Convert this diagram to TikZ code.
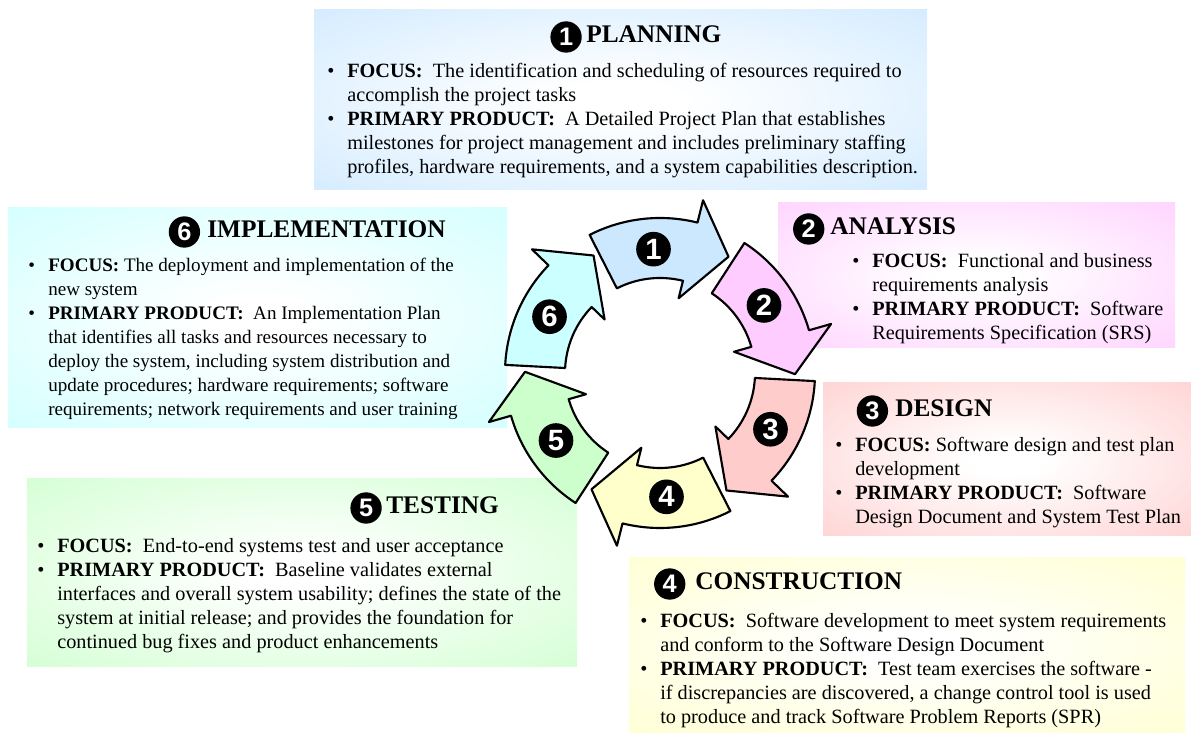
\documentclass[tikz,border=0pt]{standalone}
\usepackage{fontspec}
\setmainfont{Liberation Serif}
\setsansfont{Liberation Sans}
\usepackage{tikz}
\usetikzlibrary{positioning}

\definecolor{planblue}{RGB}{204,232,255}
\definecolor{analysispink}{RGB}{255,204,255}
\definecolor{designrose}{RGB}{255,204,204}
\definecolor{buildyellow}{RGB}{255,255,204}
\definecolor{testgreen}{RGB}{204,255,204}
\definecolor{deploycyan}{RGB}{204,255,255}
\colorlet{boxedge}{white}
\pgfdeclareradialshading[boxedge]{glow}{\pgfpoint{0bp}{0bp}}{color(0bp)=(white);color(5bp)=(white);color(42bp)=(boxedge);color(50bp)=(boxedge)}

\newcommand{\phaseitem}{\makebox[15pt][l]{\textbullet}}
\newcommand{\phasecont}{\hspace*{15pt}}

\begin{document}
\begin{tikzpicture}[x=0.75pt, y=0.75pt,
  glowcolor/.code={\colorlet{boxedge}{#1}},
  phasebox/.style={glowcolor=#1, shade, shading=glow},
  phasetitle/.style={font=\fontsize{19}{22}\selectfont\bfseries, inner sep=0pt, anchor=base west},
  phasetext/.style={font=\fontsize{15.2}{18}\selectfont, align=left, inner sep=0pt, anchor=north west},
  headdot/.style={circle, fill=black, text=white, minimum size=23.5pt, inner sep=0pt,
    font=\sffamily\bfseries\fontsize{19}{19}\selectfont},
  arrowdot/.style={headdot, minimum size=26pt, font=\sffamily\bfseries\fontsize{22}{22}\selectfont},
  cyclearrow/.style={draw=black, line width=1.6pt, line join=round}]
\useasboundingbox (0,0) rectangle (1191,734);

\path[phasebox=planblue] (314,724) rectangle (927,544);
\path[phasebox=analysispink] (778,531) rectangle (1175,386);
\path[phasebox=designrose] (823,351) rectangle (1191,198);
\path[phasebox=buildyellow] (629,176) rectangle (1185,1);
\path[phasebox=testgreen] (27,255) rectangle (577,67);
\path[phasebox=deploycyan] (8,526) rectangle (507,306);

\node[phasetitle] (plantitle) at (586,691) {PLANNING};
\node[headdot, left=3pt of plantitle.base west, yshift=4.5pt] (plannum) {1};
\node[phasetext] (planbody) at (327,671) {%
\phaseitem\textbf{FOCUS:}\ \ The identification and scheduling of resources required to\\
\phasecont accomplish the project tasks\\
\phaseitem\textbf{PRIMARY PRODUCT:}\ \ A Detailed Project Plan that establishes\\
\phasecont milestones for project management and includes preliminary staffing\\
\phasecont profiles, hardware requirements, and a system capabilities description.};

\node[phasetitle] (anatitle) at (830,499) {ANALYSIS};
\node[headdot, left=4pt of anatitle.base west, yshift=4.5pt] (ananum) {2};
\node[phasetext] (anabody) at (852,481) {%
\phaseitem\textbf{FOCUS:}\ \ Functional and business\\
\phasecont requirements analysis\\
\phaseitem\textbf{PRIMARY PRODUCT:}\ \ Software\\
\phasecont Requirements Specification (SRS)};

\node[phasetitle] (destitle) at (895,317) {DESIGN};
\node[headdot, left=5pt of destitle.base west, yshift=4.5pt] (desnum) {3};
\node[phasetext] (desbody) at (835,297) {%
\phaseitem\textbf{FOCUS:} Software design and test plan\\
\phasecont development\\
\phaseitem\textbf{PRIMARY PRODUCT:}\ \ Software\\
\phasecont Design Document and System Test Plan};

\node[phasetitle] (contitle) at (695,144) {CONSTRUCTION};
\node[headdot, left=7pt of contitle.base west, yshift=4.5pt] (connum) {4};
\node[phasetext] (conbody) at (640,121) {%
\phaseitem\textbf{FOCUS:}\ \ Software development to meet system requirements\\
\phasecont and conform to the Software Design Document\\
\phaseitem\textbf{PRIMARY PRODUCT:}\ \ Test team exercises the software -\\
\phasecont if discrepancies are discovered, a change control tool is used\\
\phasecont to produce and track Software Problem Reports (SPR)};

\node[phasetitle] (testtitle) at (386,220) {TESTING};
\node[headdot, left=3pt of testtitle.base west, yshift=4.5pt] (testnum) {5};
\node[phasetext] (testbody) at (37,196) {%
\phaseitem\textbf{FOCUS:}\ \ End-to-end systems test and user acceptance\\
\phaseitem\textbf{PRIMARY PRODUCT:}\ \ Baseline validates external\\
\phasecont interfaces and overall system usability; defines the state of the\\
\phasecont system at initial release; and provides the foundation for\\
\phasecont continued bug fixes and product enhancements};

\node[phasetitle] (imptitle) at (207,496) {IMPLEMENTATION};
\node[headdot, left=5pt of imptitle.base west, yshift=4.5pt] (impnum) {6};
\node[phasetext, font=\fontsize{14.3}{18}\selectfont] (impbody) at (28,476) {%
\phaseitem\textbf{FOCUS:} The deployment and implementation of the\\
\phasecont new system\\
\phaseitem\textbf{PRIMARY PRODUCT:}\ \ An Implementation Plan\\
\phasecont that identifies all tasks and resources necessary to\\
\phasecont deploy the system, including system distribution and\\
\phasecont update procedures; hardware requirements; software\\
\phasecont requirements; network requirements and user training};

\begin{scope}[shift={(660,361)}]
\foreach \k/\c in {1/planblue, 2/analysispink, 3/designrose, 4/buildyellow, 5/testgreen, 6/deploycyan}{
  \pgfmathsetmacro{\a}{177-60*\k}
  \draw[cyclearrow, fill=\c] (\a:95) -- (\a:155) arc[start angle=\a, end angle=\a-41, radius=155]
    -- (\a-41:178) -- (\a-57.5:135) -- (\a-41:77) -- (\a-41:95)
    arc[start angle=\a-41, end angle=\a, radius=95] -- cycle;
  \node[arrowdot] (cyc\k) at (\a-24:124) {\k};
}
\end{scope}
\end{tikzpicture}
\end{document}
